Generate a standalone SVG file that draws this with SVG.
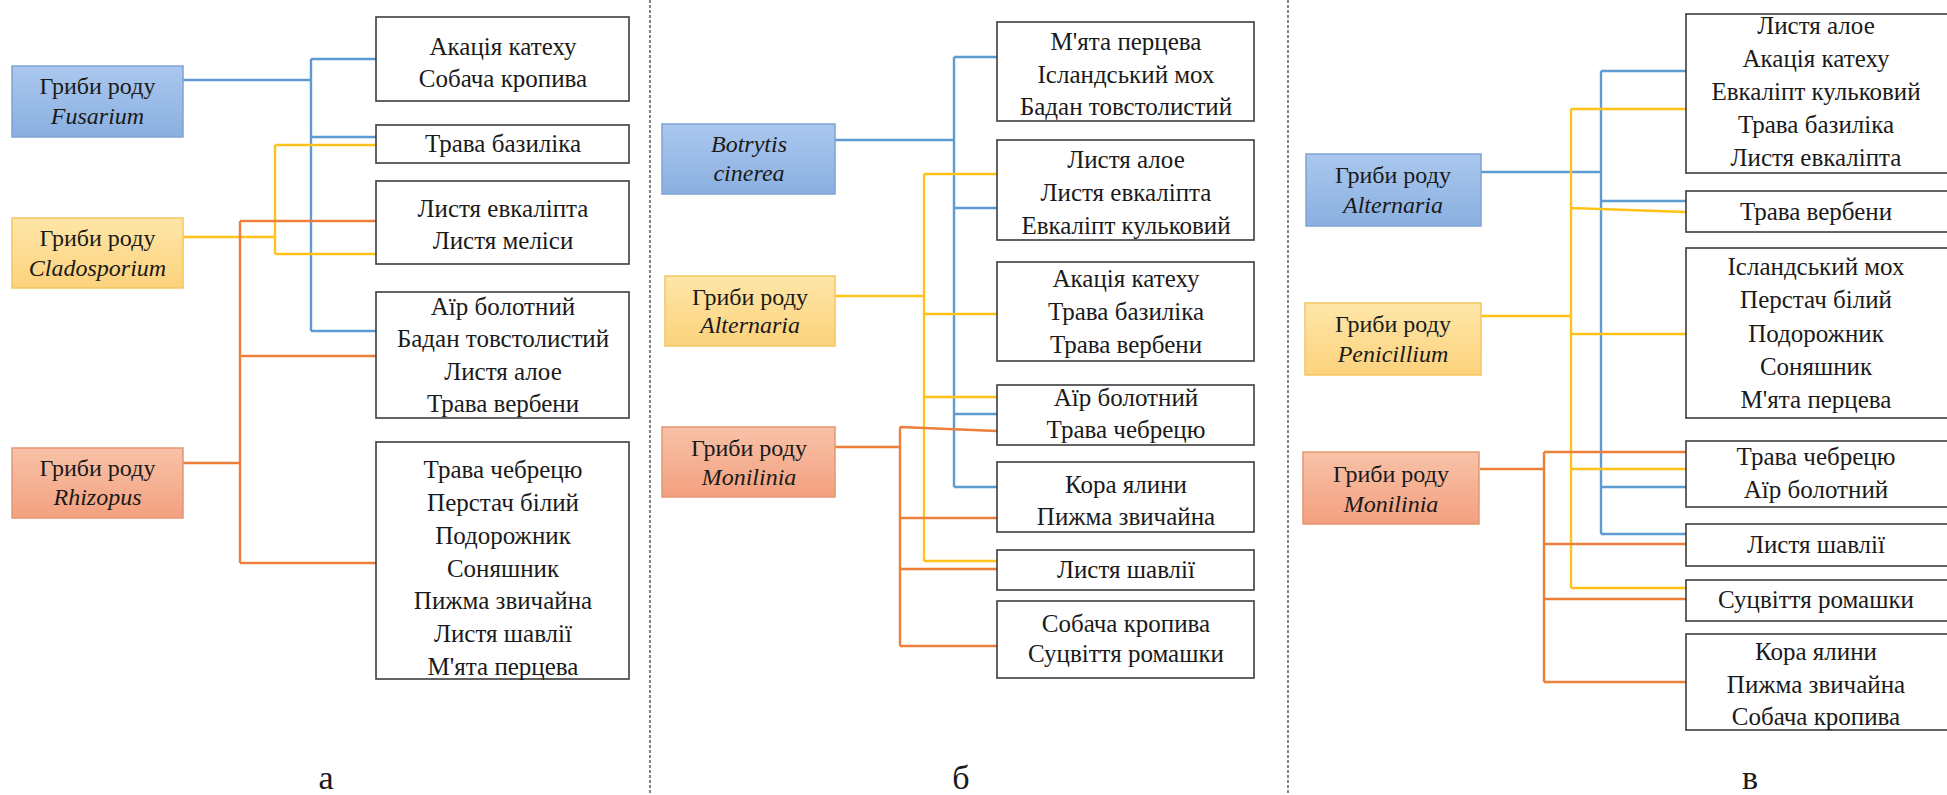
<svg xmlns="http://www.w3.org/2000/svg" width="1947" height="795" viewBox="0 0 1947 795">
<defs>
<linearGradient id="gB" x1="0" y1="0" x2="0" y2="1"><stop offset="0" stop-color="#aac8ee"/><stop offset="1" stop-color="#8aafe0"/></linearGradient>
<linearGradient id="gY" x1="0" y1="0" x2="0" y2="1"><stop offset="0" stop-color="#fee6a8"/><stop offset="1" stop-color="#fcd27c"/></linearGradient>
<linearGradient id="gO" x1="0" y1="0" x2="0" y2="1"><stop offset="0" stop-color="#f8c2a8"/><stop offset="1" stop-color="#f3a07f"/></linearGradient>
</defs>
<style>
text{font-family:'Liberation Serif','DejaVu Serif',serif;font-size:24px;fill:#1a1a1a;text-anchor:middle}
.box text{font-size:25px}
.it{font-style:italic}
.lbl{font-size:34px}
.box rect{fill:#fff;stroke:#3c3c3c;stroke-width:1.6}
.fb{fill:url(#gB);stroke:#7fa3d3;stroke-width:1.5}
.fy{fill:url(#gY);stroke:#f3c660;stroke-width:1.5}
.fo{fill:url(#gO);stroke:#e49672;stroke-width:1.5}
.b{stroke:#5f9bd3;stroke-width:2.4;fill:none}
.y{stroke:#ffc21a;stroke-width:2.4;fill:none}
.o{stroke:#ec7f3a;stroke-width:2.4;fill:none}
.sep{stroke:#333;stroke-width:1.2;stroke-dasharray:3 2}
</style>
<rect width="1947" height="795" fill="#fff"/>
<g id="separators">
<line class="sep" x1="650" y1="0" x2="650" y2="795"/>
<line class="sep" x1="1288" y1="0" x2="1288" y2="795"/>
</g>
<g id="connectors">
<path class="b" d="M183 80H311M311 59V331M311 59H376M311 137H376M311 331H376"/>
<path class="y" d="M183 237H275M275 145V254M275 145H376M275 254H376"/>
<path class="o" d="M183 463H240M240 221V563M240 221H376M240 356H376M240 563H376"/>
<path class="b" d="M835 140H954M954 57V487M954 57H997M954 208H997M954 414H997M954 487H997"/>
<path class="y" d="M835 296H924M924 174V561M924 174H997M924 314H997M924 397H997M924 561H997"/>
<path class="o" d="M835 447H900M900 427V646M900 427L997 431M900 518H997M900 569H997M900 646H997"/>
<path class="b" d="M1481 172H1601M1601 71V534M1601 71H1686M1601 201H1686M1601 487H1686M1601 534H1686"/>
<path class="y" d="M1481 316H1571M1571 109V588M1571 109H1686M1571 208L1686 212M1571 334H1686M1571 469H1686M1571 588H1686"/>
<path class="o" d="M1480 469H1544M1544 452V682M1544 452H1686M1544 544H1686M1544 599H1686M1544 682H1686"/>
</g>
<g font-family="Liberation Serif, DejaVu Serif, serif">
<g id="a-fusarium"><rect class="fb" x="12" y="66" width="171" height="71"/><text x="97.5" y="94">Гриби роду</text><text class="it" x="97.5" y="124">Fusarium</text></g>
<g id="a-cladosporium"><rect class="fy" x="12" y="218" width="171" height="70"/><text x="97.5" y="246">Гриби роду</text><text class="it" x="97.5" y="276">Cladosporium</text></g>
<g id="a-rhizopus"><rect class="fo" x="12" y="448" width="171" height="70"/><text x="97.5" y="476">Гриби роду</text><text class="it" x="97.5" y="505">Rhizopus</text></g>
<g id="a-box1" class="box"><rect x="376" y="17" width="253" height="84"/><text x="503" y="55">Акація катеху</text><text x="503" y="87">Собача кропива</text></g>
<g id="a-box2" class="box"><rect x="376" y="125" width="253" height="38"/><text x="503" y="152">Трава базиліка</text></g>
<g id="a-box3" class="box"><rect x="376" y="181" width="253" height="83"/><text x="503" y="217">Листя евкаліпта</text><text x="503" y="249">Листя меліси</text></g>
<g id="a-box4" class="box"><rect x="376" y="292" width="253" height="126"/><text x="503" y="315">Аїр болотний</text><text x="503" y="347">Бадан товстолистий</text><text x="503" y="380">Листя алое</text><text x="503" y="412">Трава вербени</text></g>
<g id="a-box5" class="box"><rect x="376" y="442" width="253" height="237"/><text x="503" y="478">Трава чебрецю</text><text x="503" y="511">Перстач білий</text><text x="503" y="544">Подорожник</text><text x="503" y="577">Соняшник</text><text x="503" y="609">Пижма звичайна</text><text x="503" y="642">Листя шавлії</text><text x="503" y="675">М'ята перцева</text></g>
<text class="lbl" x="326" y="789">а</text>
<g id="b-botrytis"><rect class="fb" x="662" y="124" width="173" height="70"/><text class="it" x="749" y="152">Botrytis</text><text class="it" x="749" y="181">cinerea</text></g>
<g id="b-alternaria"><rect class="fy" x="665" y="276" width="170" height="70"/><text x="750" y="305">Гриби роду</text><text class="it" x="750" y="333">Alternaria</text></g>
<g id="b-monilinia"><rect class="fo" x="662" y="427" width="173" height="70"/><text x="749" y="456">Гриби роду</text><text class="it" x="749" y="485">Monilinia</text></g>
<g id="b-box1" class="box"><rect x="997" y="22" width="257" height="99"/><text x="1126" y="50">М'ята перцева</text><text x="1126" y="83">Ісландський мох</text><text x="1126" y="115">Бадан товстолистий</text></g>
<g id="b-box2" class="box"><rect x="997" y="140" width="257" height="100"/><text x="1126" y="168">Листя алое</text><text x="1126" y="201">Листя евкаліпта</text><text x="1126" y="234">Евкаліпт кульковий</text></g>
<g id="b-box3" class="box"><rect x="997" y="262" width="257" height="99"/><text x="1126" y="287">Акація катеху</text><text x="1126" y="320">Трава базиліка</text><text x="1126" y="353">Трава вербени</text></g>
<g id="b-box4" class="box"><rect x="997" y="385" width="257" height="60"/><text x="1126" y="406">Аїр болотний</text><text x="1126" y="438">Трава чебрецю</text></g>
<g id="b-box5" class="box"><rect x="997" y="462" width="257" height="70"/><text x="1126" y="493">Кора ялини</text><text x="1126" y="525">Пижма звичайна</text></g>
<g id="b-box6" class="box"><rect x="997" y="550" width="257" height="40"/><text x="1126" y="578">Листя шавлії</text></g>
<g id="b-box7" class="box"><rect x="997" y="601" width="257" height="77"/><text x="1126" y="632">Собача кропива</text><text x="1126" y="662">Суцвіття ромашки</text></g>
<text class="lbl" x="961" y="789">б</text>
<g id="c-alternaria"><rect class="fb" x="1306" y="154" width="175" height="72"/><text x="1393" y="183">Гриби роду</text><text class="it" x="1393" y="213">Alternaria</text></g>
<g id="c-penicillium"><rect class="fy" x="1305" y="303" width="176" height="72"/><text x="1393" y="332">Гриби роду</text><text class="it" x="1393" y="362">Penicillium</text></g>
<g id="c-monilinia"><rect class="fo" x="1303" y="452" width="176" height="72"/><text x="1391" y="482">Гриби роду</text><text class="it" x="1391" y="512">Monilinia</text></g>
<g id="c-box1" class="box"><rect x="1686" y="14" width="280" height="159"/><text x="1816" y="34">Листя алое</text><text x="1816" y="67">Акація катеху</text><text x="1816" y="100">Евкаліпт кульковий</text><text x="1816" y="133">Трава базиліка</text><text x="1816" y="166">Листя евкаліпта</text></g>
<g id="c-box2" class="box"><rect x="1686" y="191" width="280" height="41"/><text x="1816" y="220">Трава вербени</text></g>
<g id="c-box3" class="box"><rect x="1686" y="248" width="280" height="170"/><text x="1816" y="275">Ісландський мох</text><text x="1816" y="308">Перстач білий</text><text x="1816" y="342">Подорожник</text><text x="1816" y="375">Соняшник</text><text x="1816" y="408">М'ята перцева</text></g>
<g id="c-box4" class="box"><rect x="1686" y="441" width="280" height="66"/><text x="1816" y="465">Трава чебрецю</text><text x="1816" y="498">Аїр болотний</text></g>
<g id="c-box5" class="box"><rect x="1686" y="524" width="280" height="42"/><text x="1816" y="553">Листя шавлії</text></g>
<g id="c-box6" class="box"><rect x="1686" y="580" width="280" height="41"/><text x="1816" y="608">Суцвіття ромашки</text></g>
<g id="c-box7" class="box"><rect x="1686" y="634" width="280" height="96"/><text x="1816" y="660">Кора ялини</text><text x="1816" y="693">Пижма звичайна</text><text x="1816" y="725">Собача кропива</text></g>
<text class="lbl" x="1750" y="789">в</text>
</g>
</svg>
